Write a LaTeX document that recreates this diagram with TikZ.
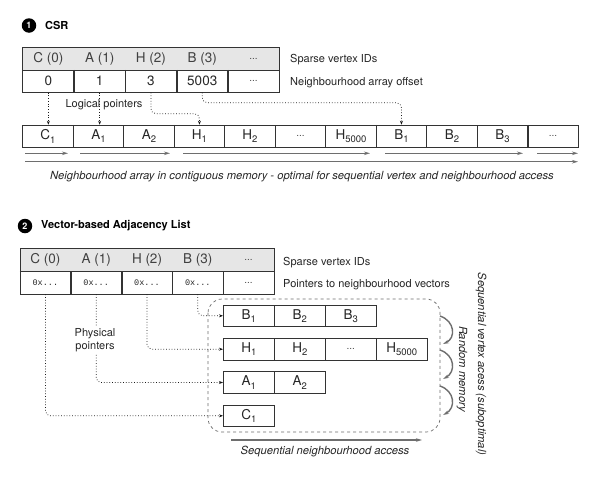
\documentclass[tikz,border=0pt]{standalone}
\usepackage{fontspec}
\setmainfont{TeX Gyre Heros}
\setmonofont{Liberation Mono}
\usetikzlibrary{arrows.meta,calc}
\definecolor{hdrgray}{HTML}{E6E6E6}
\definecolor{linegray}{HTML}{333333}
\definecolor{arrgray}{HTML}{6E6E6E}
\newcommand{\sbx}[1]{\raisebox{-0.45ex}{\fontsize{9.5}{10}\selectfont #1}}
\begin{document}
\begin{tikzpicture}[x=1pt,y=-1pt,
  cellbase/.style={inner sep=0pt, font=\fontsize{13.5}{15}\selectfont, text=black!85},
  hdrcell/.style={cellbase, fill=hdrgray, minimum width=51.3pt, minimum height=22.3pt, text=black!75},
  offcell/.style={cellbase, minimum width=51.3pt, minimum height=22.3pt},
  hdrcellb/.style={cellbase, fill=hdrgray, minimum width=50.8pt, minimum height=22.8pt, text=black!75},
  ptrcell/.style={cellbase, minimum width=50.8pt, minimum height=22.8pt, font=\ttfamily\fontsize{8.5}{9}\selectfont},
  dotcell/.style={font=\fontsize{10}{11}\selectfont, text=black!70},
  arrcell/.style={cellbase, draw=linegray, line width=0.6pt, minimum width=50.5pt, minimum height=22.7pt},
  veccell/.style={cellbase, draw=linegray, line width=0.6pt, minimum width=51pt, minimum height=21.7pt},
  outline/.style={draw=linegray, line width=0.6pt},
  divider/.style={linegray, line width=1.6pt},
  ptr/.style={dotted, line width=0.75pt, black!90, rounded corners=5pt, -{Stealth[length=4pt,width=3pt]}},
  flow/.style={arrgray, line width=1.4pt, -{Stealth[length=6pt,width=3.5pt]}},
  lbl/.style={font=\fontsize{11}{13}\selectfont, anchor=west, inner sep=0pt, text=black!85},
  captext/.style={font=\fontsize{11.2}{13}\selectfont\itshape, inner sep=0pt, text=black!85},
  badge/.style={circle, fill=black, text=white, font=\bfseries\fontsize{9}{10}\selectfont, minimum size=14.5pt, inner sep=0pt},
  title/.style={font=\bfseries\fontsize{11}{13}\selectfont, anchor=west, inner sep=0pt}
]
\useasboundingbox[fill=white] (0,0) rectangle (597,493);

% ---------- Section 1: CSR ----------
\node[badge] (bd1) at (29,25.5) {1};
\node[title] (tt1) at (45,25.5) {CSR};

\node[hdrcell] (h1) at (48.35,58.85) {C (0)};
\node[hdrcell] (h2) at (99.65,58.85) {A (1)};
\node[hdrcell] (h3) at (150.95,58.85) {H (2)};
\node[hdrcell] (h4) at (202.25,58.85) {B (3)};
\node[hdrcell,dotcell] (h5) at (253.55,58.85) {...};
\node[offcell] (o1) at (48.35,81.15) {0};
\node[offcell] (o2) at (99.65,81.15) {1};
\node[offcell] (o3) at (150.95,81.15) {3};
\node[offcell] (o4) at (202.25,81.15) {5003};
\node[offcell,dotcell] (o5) at (253.55,81.15) {...};
\draw[outline] (h1.north west) rectangle (o5.south east);
\draw[outline] (h1.south west) -- (h5.south east);
\foreach \k in {1,2,3,4} \draw[divider] (o\k.north east) -- (o\k.south east);

\node[lbl] (l1) at (290,60) {Sparse vertex IDs};
\node[lbl] (l2) at (290,83) {Neighbourhood array offset};

\node[arrcell] (n1) at (47.95,136.4) {C\sbx{1}};
\node[arrcell] (n2) at (98.45,136.4) {A\sbx{1}};
\node[arrcell] (n3) at (148.95,136.4) {A\sbx{2}};
\node[arrcell] (n4) at (199.45,136.4) {H\sbx{1}};
\node[arrcell] (n5) at (249.95,136.4) {H\sbx{2}};
\node[arrcell,dotcell] (n6) at (300.45,136.4) {...};
\node[arrcell] (n7) at (350.95,136.4) {H\sbx{5000}};
\node[arrcell] (n8) at (401.45,136.4) {B\sbx{1}};
\node[arrcell] (n9) at (451.95,136.4) {B\sbx{2}};
\node[arrcell] (n10) at (502.45,136.4) {B\sbx{3}};
\node[arrcell,dotcell] (n11) at (552.95,136.4) {...};
\foreach \k in {1,3,7,10} \draw[divider] (n\k.north east) -- (n\k.south east);

\draw[ptr] (o1.south) -- (o1.south |- n1.north);
\draw[ptr] (o2.south) -- (o2.south |- n2.north);
\draw[ptr] (o3.south) |- ($(n4.north)+(0,-11)$) -- (n4.north);
\draw[ptr] (o4.south) |- ($(n8.north)+(0,-22)$) -- (n8.north);
\node[font=\fontsize{11}{13}\selectfont, text=black!85, inner sep=0pt] (lp) at (104,105) {Logical pointers};

\draw[flow] (25,153.3) -- (68,153.3);
\draw[flow] (80,153.3) -- (170,153.3);
\draw[flow] (183,153.3) -- (370,153.3);
\draw[flow] (385,153.3) -- (523,153.3);
\draw[flow] (537,153.3) -- (578,153.3);
\draw[flow] (25,161.7) -- (578,161.7);

\node[captext] (cp1) at (302,176.7) {Neighbourhood array in contiguous memory - optimal for sequential vertex and neighbourhood access};

% ---------- Section 2: Vector-based adjacency list ----------
\node[badge] (bd2) at (25,226) {2};
\node[title] (tt2) at (41,226) {Vector-based Adjacency List};

\node[hdrcellb] (g1) at (45.4,260) {C (0)};
\node[hdrcellb] (g2) at (96.2,260) {A (1)};
\node[hdrcellb] (g3) at (147.0,260) {H (2)};
\node[hdrcellb] (g4) at (197.8,260) {B (3)};
\node[hdrcellb,dotcell] (g5) at (248.6,260) {...};
\node[ptrcell] (q1) at (45.4,282.8) {0x...};
\node[ptrcell] (q2) at (96.2,282.8) {0x...};
\node[ptrcell] (q3) at (147.0,282.8) {0x...};
\node[ptrcell] (q4) at (197.8,282.8) {0x...};
\node[ptrcell,dotcell] (q5) at (248.6,282.8) {...};
\draw[outline] (g1.north west) rectangle (q5.south east);
\draw[outline] (g1.south west) -- (g5.south east);
\foreach \k in {1,2,3,4} \draw[divider] (q\k.north east) -- (q\k.south east);

\node[lbl] (l3) at (283,262.7) {Sparse vertex IDs};
\node[lbl] (l4) at (283,285) {Pointers to neighbourhood vectors};

\draw[dashed, arrgray, line width=0.7pt, rounded corners=14pt] (208,299) rectangle (440,432);

\node[veccell] (vb1) at (248.8,315.8) {B\sbx{1}};
\node[veccell] (vb2) at (299.8,315.8) {B\sbx{2}};
\node[veccell] (vb3) at (350.8,315.8) {B\sbx{3}};
\node[veccell] (vh1) at (248.8,349.2) {H\sbx{1}};
\node[veccell] (vh2) at (299.8,349.2) {H\sbx{2}};
\node[veccell,dotcell] (vh3) at (350.8,349.2) {...};
\node[veccell] (vh4) at (401.8,349.2) {H\sbx{5000}};
\node[veccell] (va1) at (248.8,382.5) {A\sbx{1}};
\node[veccell] (va2) at (299.8,382.5) {A\sbx{2}};
\node[veccell] (vc1) at (248.8,415.8) {C\sbx{1}};

\draw[ptr] (q4.south) |- (vb1.west);
\draw[ptr] (q3.south) |- (vh1.west);
\draw[ptr] (q2.south) |- (va1.west);
\draw[ptr] (q1.south) |- (vc1.west);
\node[align=center, font=\fontsize{11}{12.7}\selectfont, text=black!85, fill=white, inner sep=1pt] (pp) at (95,340) {Physical\\pointers};

\draw[flow] (440,316) .. controls (455,321) and (456,338) .. (443,344);
\draw[flow] (440,350) .. controls (455,355) and (456,372) .. (443,379);
\draw[flow] (440,386) .. controls (455,391) and (456,408) .. (443,415);

\node[captext, rotate=-90] (rm) at (462,369) {Random memory};
\node[captext, rotate=-90] (sv) at (481,364) {Sequential vertex acess (suboptimal)};

\draw[flow] (231,440) -- (422,440);
\node[captext] (cp2) at (325,451.7) {Sequential neighbourhood access};
\end{tikzpicture}
\end{document}
